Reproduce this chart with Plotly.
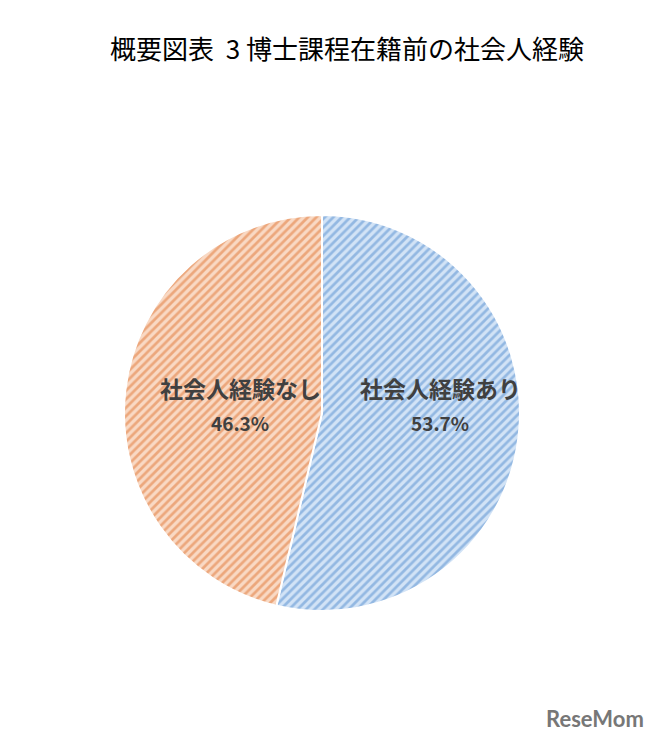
import plotly.graph_objects as go

labels = ["社会人経験あり", "社会人経験なし"]
values = [53.7, 46.3]
bg_colors = ["#D2E3F6", "#F9D9C4"]
fg_colors = ["#93B8E2", "#ECA77C"]
title_text = "概要図表&nbsp;&nbsp;3&nbsp;博士課程在籍前の社会人経験"
watermark = "ReseMom"

W, H = 657, 747
cx, cy, r = 314, 405, 198

# label anchor positions (pixels) for each slice: (x, label_y, value_y)
label_pos = [(432, 380, 414), (232, 380, 414)]

fig = go.Figure(go.Pie(
    labels=labels,
    values=values,
    sort=False,
    direction="clockwise",
    rotation=0,
    marker=dict(
        colors=bg_colors,
        line=dict(color="white", width=2),
        pattern=dict(shape="/", fgcolor=fg_colors, bgcolor=bg_colors, size=6, solidity=0.45),
    ),
    textinfo="none",
    showlegend=False,
    hoverinfo="skip",
    domain=dict(x=[(cx - r) / W, (cx + r) / W], y=[(H - cy - r) / H, (H - cy + r) / H]),
))

font_lbl = dict(family="Noto Sans CJK JP", size=23, color="#404040", weight="bold")
font_val = dict(family="Noto Sans CJK JP", size=19, color="#404040", weight="bold")
annotations = []
for lab, val, (x, ly, vy) in zip(labels, values, label_pos):
    annotations.append(dict(text=lab, x=x / W, y=1 - ly / H, xref="paper", yref="paper",
                            showarrow=False, xanchor="center", yanchor="middle", font=font_lbl))
    annotations.append(dict(text=f"{val:.1f}%", x=x / W, y=1 - vy / H, xref="paper", yref="paper",
                            showarrow=False, xanchor="center", yanchor="middle", font=font_val))
annotations.append(dict(text=watermark, x=638 / W, y=1 - 710 / H, xref="paper", yref="paper",
                        showarrow=False, xanchor="right", yanchor="middle",
                        font=dict(family="Lato", size=22, color="#777777", weight="bold")))

fig.update_layout(
    width=W, height=H,
    margin=dict(l=0, r=0, t=0, b=0),
    paper_bgcolor="white",
    plot_bgcolor="white",
    title=dict(text=title_text, x=339 / W, xanchor="center", y=1 - 42 / H, yanchor="middle",
               font=dict(family="Noto Sans CJK JP", size=26, color="#000000")),
    annotations=annotations,
)

fig.write_html("out.html")
